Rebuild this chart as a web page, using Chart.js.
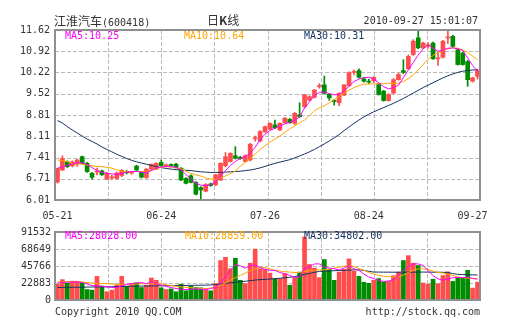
<!DOCTYPE html>
<html><head><meta charset="utf-8">
<script src="https://cdn.jsdelivr.net/npm/chart.js"></script>
<style>
html,body{margin:0;padding:0;background:#fff;width:505px;height:330px;overflow:hidden}
#wrap{position:relative;width:505px;height:330px}
canvas{position:absolute;left:0}
.t{position:absolute;font:10px "DejaVu Sans Mono",monospace;line-height:12px;white-space:nowrap;color:#333}
.cn{font:12px "Noto Sans CJK SC",sans-serif;line-height:14px}
</style></head><body>
<div id="wrap">
<canvas id="k" width="505" height="225" style="top:0;width:505px;height:225px"></canvas>
<canvas id="v" width="505" height="90" style="top:222px;width:505px;height:90px"></canvas>
<div class="t" style="left:54px;top:14px"><span class="cn" id="name"></span><span id="code"></span></div>
<div class="t cn" style="left:207px;top:13px" id="ktitle"></div>
<div class="t" style="right:27px;top:15px" id="time"></div>
<div class="t" style="left:65px;top:30px;color:#ff00ff" id="l1"></div>
<div class="t" style="left:184px;top:30px;color:#ffa500" id="l2"></div>
<div class="t" style="left:304px;top:30px;color:#13335f" id="l3"></div>
<div class="t" style="left:65px;top:230px;color:#ff00ff" id="v1"></div>
<div class="t" style="left:185px;top:230px;color:#ffa500" id="v2"></div>
<div class="t" style="left:304px;top:230px;color:#13335f" id="v3"></div>
<div class="t" style="left:55px;top:306px" id="copy"></div>
<div class="t" style="right:25px;top:306px" id="url"></div>
</div>
<script>
// ---- data ----
const stockName = '江淮汽车';
const stockCode = '(600418)';
const timeStamp = '2010-09-27 15:01:07';
const copyrightText = 'Copyright 2010 QQ.COM';
const urlText = 'http://stock.qq.com';

const xLabels = ['05-21','06-24','07-26','08-24','09-27'];
const xLabelIndex = [0, 21, 42, 63, 84];
const priceTicks = [6.01, 6.71, 7.41, 8.11, 8.81, 9.52, 10.22, 10.92, 11.62];
const volTicks = [0, 22883, 45766, 68649, 91532];

const maLast = {ma5: 10.25, ma10: 10.64, ma30: 10.31};
const volMaLast = {ma5: 28028.00, ma10: 28859.00, ma30: 34802.00};

const open = [6.60,7.00,7.27,7.14,7.19,7.44,7.22,6.89,6.93,6.97,6.70,6.74,6.72,6.82,6.94,6.90,7.13,6.92,6.75,7.03,
7.03,7.25,7.14,7.16,7.19,7.06,6.72,6.81,6.59,6.42,6.30,6.54,6.51,6.67,7.14,7.28,7.47,7.42,7.28,7.33,
8.03,7.96,8.26,8.35,8.49,8.32,8.56,8.67,8.54,8.82,9.09,9.31,9.40,9.75,9.81,9.50,9.30,9.22,9.47,9.78,
10.22,10.28,10.01,9.92,9.95,9.82,9.60,9.29,9.54,9.98,10.28,10.34,10.81,11.36,11.03,11.10,11.19,10.67,10.72,11.36,
11.41,10.97,10.86,10.58,9.93,10.09];
const high = [7.06,7.47,7.30,7.30,7.36,7.46,7.25,6.92,7.06,7.00,6.92,6.82,6.93,7.02,6.98,6.96,7.16,6.95,7.05,7.20,
7.24,7.33,7.20,7.20,7.22,7.08,6.75,6.84,6.62,6.45,6.55,6.57,6.86,7.24,7.58,7.57,7.77,7.45,7.50,7.88,
8.12,8.30,8.45,8.56,8.65,8.56,8.73,8.70,8.90,9.22,9.50,9.45,9.66,9.85,10.10,9.52,9.33,9.55,9.82,10.24,
10.30,10.34,10.05,10.00,10.08,9.86,9.63,9.52,10.02,10.20,10.64,10.80,11.30,11.62,11.22,11.20,11.22,10.90,11.28,11.58,
11.45,11.00,10.90,10.62,10.06,10.33];
const low = [6.57,6.98,7.08,7.10,7.12,7.20,6.92,6.70,6.84,6.82,6.68,6.70,6.70,6.78,6.87,6.86,6.98,6.74,6.72,7.00,
7.01,7.12,7.10,7.12,7.06,6.65,6.54,6.57,6.18,6.01,6.28,6.46,6.48,6.65,7.10,7.26,7.36,7.35,7.26,7.30,
7.95,7.93,8.24,8.33,8.36,8.30,8.54,8.54,8.50,8.74,9.05,9.28,9.37,9.70,9.50,9.30,9.14,9.12,9.45,9.76,
10.14,10.03,9.90,9.85,9.88,9.47,9.27,9.27,9.52,9.96,10.18,10.32,10.78,11.00,11.00,11.02,10.65,10.45,10.70,11.18,
11.06,10.46,10.46,9.76,9.90,10.00];
const close = [7.05,7.38,7.11,7.27,7.33,7.22,6.95,6.76,6.97,6.84,6.89,6.76,6.90,6.99,6.91,6.93,7.00,6.76,7.03,7.19,
7.22,7.14,7.16,7.15,7.08,6.67,6.56,6.59,6.20,6.34,6.52,6.49,6.84,7.22,7.44,7.55,7.39,7.38,7.47,7.85,
8.06,8.27,8.43,8.54,8.39,8.54,8.71,8.56,8.87,8.76,9.48,9.42,9.64,9.78,9.53,9.38,9.26,9.53,9.81,10.21,
10.25,10.06,9.93,9.90,10.06,9.49,9.29,9.49,9.98,10.15,10.22,10.75,11.25,11.03,11.19,11.13,10.67,10.70,11.25,11.39,
11.08,10.48,10.48,9.98,10.04,10.28];

const ma5 = [7.06,7.10,7.15,7.20,7.24,7.24,7.18,7.08,6.98,6.93,6.89,6.87,6.86,6.88,6.93,6.95,6.95,6.93,6.91,6.98,
7.06,7.10,7.12,7.11,7.09,7.00,6.85,6.70,6.56,6.50,6.48,6.52,6.62,6.80,6.98,7.15,7.28,7.38,7.45,7.55,
7.75,8.00,8.18,8.30,8.38,8.45,8.52,8.58,8.64,8.75,9.05,9.25,9.45,9.56,9.58,9.52,9.48,9.50,9.62,9.76,
9.92,10.00,10.05,10.06,10.00,9.88,9.75,9.68,9.72,9.80,10.05,10.30,10.55,10.80,11.00,11.12,11.02,10.92,10.96,11.02,
11.03,11.00,10.95,10.70,10.45,10.25];
const ma10 = [7.33,7.31,7.28,7.22,7.20,7.19,7.16,7.14,7.12,7.11,7.09,7.06,7.00,6.97,6.95,6.94,6.95,6.95,6.96,6.99,
7.04,7.09,7.11,7.10,7.07,7.04,6.96,6.89,6.84,6.80,6.74,6.70,6.69,6.74,6.80,6.88,6.97,7.12,7.25,7.38,
7.52,7.68,7.80,7.92,8.02,8.12,8.24,8.36,8.46,8.55,8.65,8.80,8.95,9.05,9.12,9.22,9.32,9.43,9.54,9.63,
9.72,9.79,9.83,9.84,9.84,9.85,9.85,9.86,9.86,9.86,9.92,10.02,10.13,10.30,10.48,10.65,10.78,10.88,10.95,11.00,
11.03,11.02,10.96,10.88,10.76,10.64];
const ma30 = [8.63,8.55,8.43,8.32,8.22,8.12,8.02,7.94,7.86,7.76,7.68,7.60,7.52,7.45,7.38,7.32,7.27,7.23,7.19,7.15,
7.11,7.08,7.05,7.03,7.01,7.00,6.99,6.98,6.96,6.94,6.93,6.92,6.92,6.92,6.93,6.94,6.95,6.96,6.98,7.00,
7.03,7.07,7.12,7.17,7.22,7.26,7.30,7.34,7.40,7.46,7.53,7.60,7.68,7.77,7.86,7.96,8.06,8.17,8.30,8.42,
8.54,8.65,8.75,8.84,8.92,8.99,9.06,9.13,9.20,9.28,9.36,9.45,9.54,9.63,9.72,9.80,9.88,9.96,10.04,10.11,
10.17,10.22,10.26,10.28,10.30,10.31];

const volume = [21200,27400,23000,25200,25200,23400,14100,13300,31800,18600,11100,13300,20300,31800,18600,22100,23000,16800,19900,29600,
26500,16400,14100,15000,11100,21200,12400,18600,16800,16400,14100,12400,22100,53100,57500,42000,56200,26500,22100,49500,
68500,42000,41100,36200,28700,28700,35400,19900,30100,37600,84900,47800,42900,30100,54400,41100,26500,37600,41100,55300,
38900,31800,23900,22500,26500,28700,24300,25200,32700,37600,53100,59700,49500,46400,23000,21200,28000,22000,33000,38000,
25000,30000,30000,40000,16000,24000];
const volMa5 = [23000,23500,24000,24300,24500,23500,21500,19500,19000,18600,17500,17000,16800,19000,21000,22100,23000,23500,22000,24300,
22000,20000,18500,16800,15500,14500,14100,14500,15000,14500,14100,15500,17000,22000,31800,40000,47800,46000,43000,46400,
47000,44000,41000,40000,39800,37000,35500,33000,30500,31000,42000,45000,48600,48600,44200,43000,42000,40700,43000,46400,
42000,39800,35000,31000,28700,26500,25000,25500,27500,32700,40000,45000,48600,48600,46400,40000,32700,28500,26500,28500,
30000,30500,30000,31000,29000,28000];
const volMa10 = [24300,24500,24800,25200,25000,24300,23500,22800,22500,22100,21800,21500,21200,21200,21000,21200,21500,21800,22000,22100,
22100,21500,20500,19500,18500,17700,17000,16500,16000,15500,15500,16000,17500,19900,23000,26500,30100,33000,36200,39500,
42000,43500,43500,42000,39800,39000,38000,37600,37000,37000,38500,39500,40000,40500,40700,41500,43000,44200,45500,46400,
45000,42500,40000,37000,35000,33200,32000,31500,31000,31000,33500,37000,40000,42000,42000,41000,39000,37000,36200,35000,
33000,31000,30000,29500,29000,28900];
const volMa30 = [16800,16900,17000,17100,17200,17300,17400,17500,17600,17700,17800,17900,18000,18100,18300,18500,18600,18700,18800,18900,
19000,19100,19200,19300,19400,19500,19600,19700,19800,19900,20000,20300,20800,21500,22300,23200,24000,24500,25200,26000,
26800,27400,27800,28200,28700,29300,29900,30600,31500,33000,34500,35800,37200,38500,38800,39100,39400,39800,40000,40300,
40600,40700,39800,38600,37600,37600,37500,37500,37400,37400,37400,37500,37500,37600,37600,37500,37500,37400,37300,37000,
35500,34600,34200,34000,33800,33700];

// ---- texts ----
document.getElementById('name').textContent = stockName;
document.getElementById('code').textContent = stockCode;
document.getElementById('ktitle').innerHTML = '日<b>K</b>线';
document.getElementById('time').textContent = timeStamp;
document.getElementById('l1').textContent = 'MA5:' + maLast.ma5.toFixed(2);
document.getElementById('l2').textContent = 'MA10:' + maLast.ma10.toFixed(2);
document.getElementById('l3').textContent = 'MA30:' + maLast.ma30.toFixed(2);
document.getElementById('v1').textContent = 'MA5:' + volMaLast.ma5.toFixed(2);
document.getElementById('v2').textContent = 'MA10:' + volMaLast.ma10.toFixed(2);
document.getElementById('v3').textContent = 'MA30:' + volMaLast.ma30.toFixed(2);
document.getElementById('copy').textContent = copyrightText;
document.getElementById('url').textContent = urlText;

// ---- styles ----
const RED = '#ff4d4d', GREEN = '#008c00';
const C5 = '#ff00ff', C10 = '#ffa500', C30 = '#13335f';
const GRID = '#bababa';
const FONT = {family: 'DejaVu Sans Mono', size: 10};
const N = close.length;
const candleColor = close.map((c, i) => c >= open[i] ? RED : GREEN);
const pts = arr => arr.map((v, i) => ({x: i, y: v}));
const lineDs = (data, color) => ({type: 'line', data: pts(data), borderColor: color, borderWidth: 1,
  pointRadius: 0, tension: 0, order: 0, fill: false});

// dashed grid from the scales' own ticks, plus a frame round the plot
function drawGrid(chart) {
  const {ctx, chartArea: a, scales} = chart;
  ctx.save();
  ctx.strokeStyle = GRID;
  ctx.lineWidth = 1;
  ctx.setLineDash([4, 2]);
  ctx.beginPath();
  scales.y.ticks.forEach(t => {
    const p = Math.round(scales.y.getPixelForValue(t.value)) + 0.5;
    ctx.moveTo(a.left, p); ctx.lineTo(a.right, p);
  });
  scales.x.ticks.forEach(t => {
    const p = Math.round(scales.x.getPixelForValue(t.value)) + 0.5;
    ctx.moveTo(p, a.top); ctx.lineTo(p, a.bottom);
  });
  ctx.stroke();
  ctx.restore();
}
const gridFrame = {
  id: 'gridFrame',
  beforeDatasetsDraw(chart) { drawGrid(chart); },
  afterDatasetsDraw(chart) {
    const {ctx, chartArea: a} = chart;
    ctx.save();
    ctx.strokeStyle = '#8f8f8f';
    ctx.lineWidth = 2;
    ctx.strokeRect(a.left, a.top, a.right - a.left, a.bottom - a.top);
    ctx.restore();
  }
};

const gridX = () => ({
  type: 'linear', min: -0.5, max: N - 0.5, position: 'bottom', offset: false,
  afterBuildTicks: ax => { const t = []; for (let k = 0; k <= 8; k++) t.push({value: -0.5 + k * N / 8}); ax.ticks = t; },
  ticks: {display: false},
  grid: {display: false, drawTicks: false, offset: false},
  border: {display: false},
  afterFit: ax => { ax.height = 0; }
});

new Chart(document.getElementById('k'), {
  type: 'bar',
  data: {datasets: [
    lineDs(ma5, C5), lineDs(ma10, C10), lineDs(ma30, C30),
    {data: open.map((o, i) => ({x: i, y: [o, close[i]]})), backgroundColor: candleColor,
      barThickness: 4, minBarLength: 1, grouped: false, order: 1, borderWidth: 0},
    {data: high.map((h, i) => ({x: i, y: [low[i], h]})), backgroundColor: candleColor,
      barThickness: 1, grouped: false, order: 2, borderWidth: 0}
  ]},
  options: {
    responsive: false, animation: false, devicePixelRatio: 1,
    layout: {padding: {left: 0, right: 25, top: 30, bottom: 0}},
    plugins: {legend: {display: false}, tooltip: {enabled: false}},
    scales: {
      x: gridX(),
      xd: {
        type: 'linear', axis: 'x', min: -0.5, max: N - 0.5, position: 'bottom', offset: false,
        afterBuildTicks: ax => { ax.ticks = xLabelIndex.map(v => ({value: v})); },
        ticks: {autoSkip: false, maxRotation: 0, font: FONT, color: '#333', padding: 10,
          callback: v => xLabels[xLabelIndex.indexOf(v)]},
        grid: {display: false, drawTicks: false, offset: false},
        border: {display: false},
        afterFit: ax => { ax.height = 25; }
      },
      y: {
        type: 'linear', min: priceTicks[0], max: priceTicks[priceTicks.length - 1], position: 'left',
        afterBuildTicks: ax => { ax.ticks = priceTicks.map(v => ({value: v})); },
        ticks: {font: FONT, color: '#333', padding: 5, callback: v => v.toFixed(2)},
        grid: {display: false, drawTicks: false},
        border: {display: false},
        afterFit: ax => { ax.width = 55; }
      }
    }
  },
  plugins: [gridFrame]
});

new Chart(document.getElementById('v'), {
  type: 'bar',
  data: {datasets: [
    lineDs(volMa5, C5), lineDs(volMa10, C10), lineDs(volMa30, C30),
    {data: pts(volume), backgroundColor: candleColor, barThickness: 4, grouped: false, order: 1, borderWidth: 0}
  ]},
  options: {
    responsive: false, animation: false, devicePixelRatio: 1,
    layout: {padding: {left: 0, right: 25, top: 9, bottom: 12}},
    plugins: {legend: {display: false}, tooltip: {enabled: false}},
    scales: {
      x: gridX(),
      y: {
        type: 'linear', min: volTicks[0], max: volTicks[volTicks.length - 1], position: 'left',
        afterBuildTicks: ax => { ax.ticks = volTicks.map(v => ({value: v})); },
        ticks: {font: FONT, color: '#333', padding: 4, callback: v => String(v)},
        grid: {display: false, drawTicks: false},
        border: {display: false},
        afterFit: ax => { ax.width = 55; }
      }
    }
  },
  plugins: [gridFrame]
});
</script>
</body></html>
